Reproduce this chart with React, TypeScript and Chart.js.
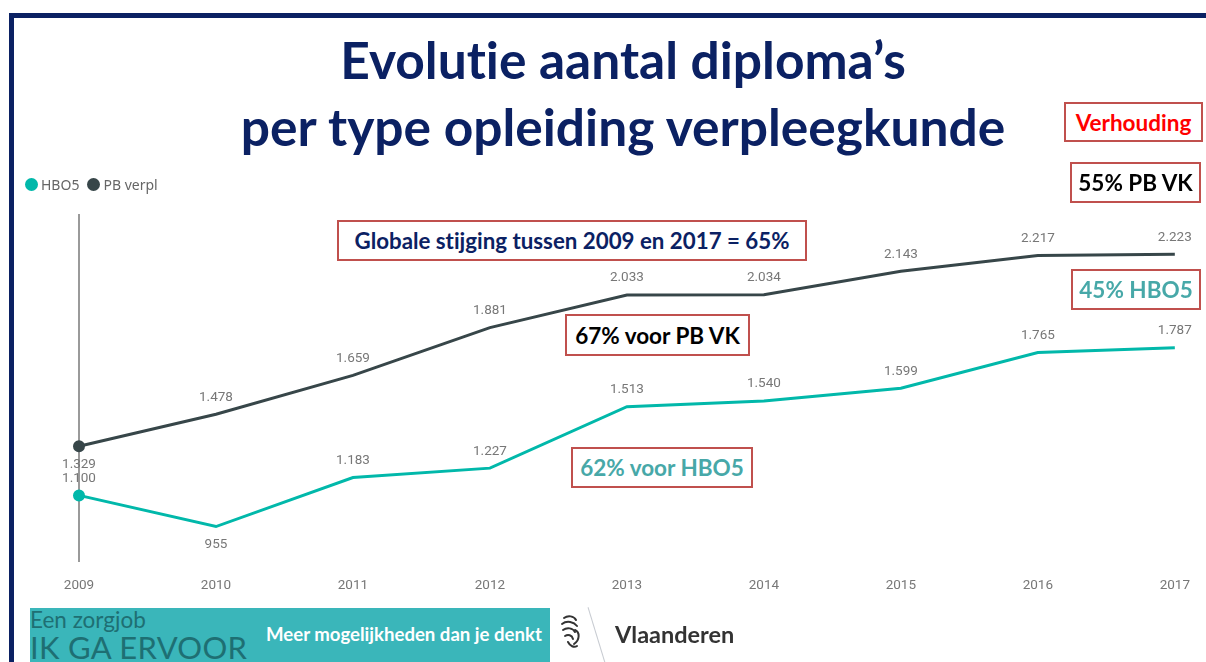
import React, { useEffect, useRef } from "react";
import { Chart, registerables } from "chart.js";

Chart.register(...registerables);

const years = ["2009", "2010", "2011", "2012", "2013", "2014", "2015", "2016", "2017"];
const hbo5 = [1100, 955, 1183, 1227, 1513, 1540, 1599, 1765, 1787];
const pbVerpl = [1329, 1478, 1659, 1881, 2033, 2034, 2143, 2217, 2223];
// label placement: true = below the point
const hbo5Below = [false, true, false, false, false, false, false, false, false];
const pbBelow = [true, false, false, false, false, false, false, false, false];

const TEAL = "#01B8AA";
const DARK = "#374649";
const NAVY = "#0B2163";
const BOXRED = "#C0504D";

const fmt = (v: number) => v.toLocaleString("de-DE");

const labelPlugin = {
  id: "pointLabels",
  afterDatasetsDraw(chart: any) {
    const ctx = chart.ctx;
    ctx.save();
    ctx.font = "13.5px Roboto";
    ctx.fillStyle = "#777777";
    ctx.textAlign = "center";
    ctx.textBaseline = "middle";
    chart.data.datasets.forEach((ds: any, di: number) => {
      const meta = chart.getDatasetMeta(di);
      const below = di === 0 ? hbo5Below : pbBelow;
      meta.data.forEach((pt: any, i: number) => {
        const y = below[i] ? pt.y + 18 : pt.y - 17;
        ctx.fillText(fmt(ds.data[i]), pt.x, y);
      });
    });
    ctx.restore();
  },
};

function Box(props: { left: number; top: number; width: number; height: number; color: string; size: number; text: string }) {
  return (
    <div
      style={{
        position: "absolute",
        left: props.left,
        top: props.top,
        width: props.width,
        height: props.height,
        boxSizing: "border-box",
        border: `2px solid ${BOXRED}`,
        background: "#fff",
        color: props.color,
        fontFamily: "Lato",
        fontWeight: 700,
        fontSize: props.size,
        fontVariantLigatures: "none",
        display: "flex",
        alignItems: "center",
        justifyContent: "center",
        whiteSpace: "nowrap",
      }}
    >
      {props.text}
    </div>
  );
}

export default function App() {
  const ref = useRef<HTMLCanvasElement>(null);
  useEffect(() => {
    if (!ref.current) return;
    const chart = new Chart(ref.current, {
      type: "line",
      data: {
        labels: years,
        datasets: [
          {
            label: "HBO5",
            data: hbo5,
            borderColor: TEAL,
            backgroundColor: TEAL,
            borderWidth: 3,
            pointRadius: years.map((_, i) => (i === 0 ? 4.5 : 0)),
            tension: 0,
          },
          {
            label: "PB verpl",
            data: pbVerpl,
            borderColor: DARK,
            backgroundColor: DARK,
            borderWidth: 3,
            pointRadius: years.map((_, i) => (i === 0 ? 4.5 : 0)),
            tension: 0,
          },
        ],
      },
      options: {
        animation: false,
        responsive: false,
        maintainAspectRatio: false,
        layout: { padding: { left: 79, right: 25, top: 214, bottom: 60 } },
        plugins: { legend: { display: false }, tooltip: { enabled: false } },
        scales: {
          x: {
            offset: false,
            border: { display: false },
            grid: {
              drawTicks: false,
              color: (c: any) => (c.index === 0 ? "#9a9a9a" : "rgba(0,0,0,0)"),
              lineWidth: 2,
            },
            ticks: { color: "#777777", font: { family: "Roboto", size: 13.5 }, padding: 16, maxRotation: 0 },
            afterFit: (s: any) => {
              s.height = 40;
            },
          },
          y: { display: false, min: 790, max: 2410 },
        },
      },
      plugins: [labelPlugin],
    });
    return () => chart.destroy();
  }, []);

  return (
    <div style={{ position: "fixed", left: 0, top: 0, width: 1206, height: 662, overflow: "hidden", background: "#fff" }}>
      <canvas ref={ref} width={1206} height={662} style={{ position: "absolute", left: 0, top: 0 }} />
      {/* frame */}
      <div style={{ position: "absolute", left: 9, top: 13, width: 1197, height: 5, background: NAVY }} />
      <div style={{ position: "absolute", left: 9, top: 13, width: 5, height: 649, background: NAVY }} />
      {/* title */}
      <div
        style={{
          position: "absolute",
          left: 100,
          width: 1046,
          top: 26,
          textAlign: "center",
          color: NAVY,
          fontFamily: "Lato",
          fontWeight: 700,
          fontSize: 51.5,
          lineHeight: "67px",
          fontVariantLigatures: "none",
          whiteSpace: "nowrap",
        }}
      >
        Evolutie aantal diploma’s
        <br />
        per type opleiding verpleegkunde
      </div>
      {/* legend */}
      <div style={{ position: "absolute", left: 25, top: 175, display: "flex", alignItems: "center", fontFamily: "Noto Sans", fontSize: 14, color: "#666" }}>
        <span style={{ width: 13, height: 13, borderRadius: 7, background: TEAL, display: "inline-block", marginRight: 3 }} />
        <span style={{ marginRight: 8 }}>HBO5</span>
        <span style={{ width: 13, height: 13, borderRadius: 7, background: DARK, display: "inline-block", marginRight: 3 }} />
        <span>PB verpl</span>
      </div>
      {/* annotation boxes */}
      <Box left={1064} top={102} width={139} height={40} color="#FF0000" size={22.5} text="Verhouding" />
      <Box left={1070} top={162} width={131} height={41} color="#000" size={22.5} text="55% PB VK" />
      <Box left={1071} top={269} width={130} height={41} color="#47A8A8" size={22.5} text="45% HBO5" />
      <Box left={337} top={220} width={470} height={41} color={NAVY} size={22.3} text="Globale stijging tussen 2009 en 2017 = 65%" />
      <Box left={565} top={314} width={185} height={42} color="#000" size={22.5} text="67% voor PB VK" />
      <Box left={571} top={447} width={182} height={41} color="#47A8A8" size={22.5} text="62% voor HBO5" />
      {/* footer */}
      <div style={{ position: "absolute", left: 30, top: 608, width: 520, height: 54, background: "#3AB6BA", overflow: "hidden" }}>
        <div style={{ position: "absolute", left: 0, top: 0, fontFamily: "Lato", fontSize: 22.5, color: "#1E6F73", lineHeight: "24px" }}>Een zorgjob</div>
        <div style={{ position: "absolute", left: 0, top: 21, fontFamily: "Lato", fontSize: 31, color: "#1E6F73", lineHeight: "36px", letterSpacing: 0.3 }}>IK GA ERVOOR</div>
        <div style={{ position: "absolute", left: 236, top: 15, fontFamily: "Lato", fontWeight: 700, fontSize: 18.6, color: "#fff" }}>Meer mogelijkheden dan je denkt</div>
      </div>
      <svg style={{ position: "absolute", left: 558, top: 612 }} width={26} height={40} viewBox="0 0 26 40">
        <g fill="none" stroke="#333" strokeWidth={2} strokeLinecap="round">
          <path d="M6 6 C10 3, 16 4, 18 8" />
          <path d="M4 12 C9 8, 16 10, 19 14" />
          <path d="M5 18 C9 15, 15 16, 17 20" />
          <path d="M7 24 C10 22, 14 23, 15 27" />
          <path d="M17 18 C22 20, 22 28, 16 32" />
          <path d="M10 30 C12 34, 16 36, 19 34" />
        </g>
      </svg>
      <div style={{ position: "absolute", left: 596, top: 606, width: 1, height: 58, background: "#c8ccd2", transform: "rotate(-17deg)" }} />
      <div style={{ position: "absolute", left: 615, top: 620, fontFamily: "Lato", fontWeight: 700, fontSize: 23.5, color: "#333" }}>Vlaanderen</div>
    </div>
  );
}
